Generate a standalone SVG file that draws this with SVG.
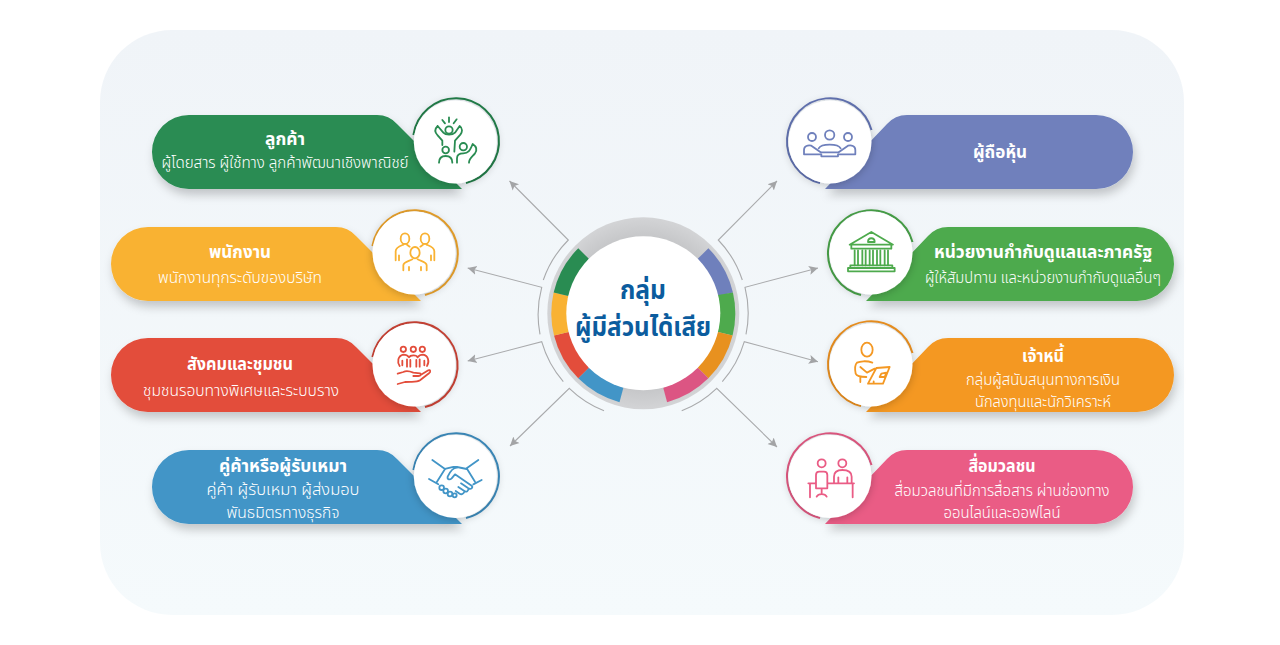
<svg xmlns="http://www.w3.org/2000/svg" width="1280" height="645" viewBox="0 0 1280 645">
<style>
text{font-family:"Noto Sans Thai","Noto Sans Thai Looped","Noto Sans","Liberation Sans",sans-serif;text-anchor:middle;fill:#fff}
.t{font-size:18px;font-weight:700}
.s{font-size:16px;font-weight:300;fill:#fff}
.c{font-size:26px;font-weight:700;fill:#0b5c9e}
.ic{fill:none;stroke-width:5.4;stroke-linecap:round;stroke-linejoin:round}
.ring{fill:none;stroke-width:2}
.conn{fill:none;stroke:#a9aaac;stroke-width:1.1}
</style>
<defs>
<linearGradient id="bg" x1="0" y1="0" x2="0" y2="1"><stop offset="0" stop-color="#f0f4f8"/><stop offset="1" stop-color="#f5fafc"/></linearGradient>
<radialGradient id="gr" cx=".5" cy=".5" r=".5"><stop offset=".8" stop-color="#c6c7c9"/><stop offset="1" stop-color="#d3d4d6"/></radialGradient>
<filter id="sh" x="-20%" y="-30%" width="140%" height="170%"><feDropShadow dx="2" dy="6" stdDeviation="5" flood-color="#000" flood-opacity=".2"/></filter>
<filter id="cs" x="-30%" y="-30%" width="160%" height="160%"><feDropShadow dx="0" dy="1" stdDeviation="4" flood-color="#000" flood-opacity=".24"/></filter>
<marker id="ah" markerUnits="userSpaceOnUse" markerWidth="12" markerHeight="12" refX="9" refY="5" orient="auto"><path d="M0,0.5 L9,5 L0,9.5 L2,5 Z" fill="#a3a4a6"/></marker>
<path id="pl" d="M37,0 H225 Q237,0 245,9 L310,74 H37 A37,37 0 0 1 37,0 Z"/>
<path id="pr" d="M271,0 H82 Q70,0 62,9 L0,74 H271 A37,37 0 0 0 271,0 Z"/>
</defs>

<rect x="100" y="30" width="1084" height="585" rx="72" fill="url(#bg)"/>

<g id="connectors" class="conn">
<path marker-end="url(#ah)" d="M543.3,280 A105,105 0 0 1 568.3,240 L509.5,181"/>
<path marker-end="url(#ah)" d="M540,334.3 A105,105 0 0 1 541.7,287.3 L467.7,268"/>
<path marker-end="url(#ah)" d="M563.3,381.7 A105,105 0 0 1 541.7,341.7 L467.7,361"/>
<path marker-end="url(#ah)" d="M604,410.7 A105,105 0 0 1 569.3,388.3 L510,446"/>
<path marker-end="url(#ah)" d="M742.3,280 A105,105 0 0 0 718.3,240 L777,181"/>
<path marker-end="url(#ah)" d="M746,334.3 A105,105 0 0 0 745,287.3 L818,268"/>
<path marker-end="url(#ah)" d="M722.3,381.7 A105,105 0 0 0 744.3,341.7 L818,361.7"/>
<path marker-end="url(#ah)" d="M681.7,410.7 A105,105 0 0 0 716.7,388.3 L777,447"/>
</g>

<g id="center">
<circle cx="643.3" cy="313.3" r="96" fill="url(#gr)"/>
<path fill="#6f80bc" d="M708.35,248.25 A92,92 0 0 1 732.94,292.6 L718.33,295.98 L697.75,258.85 Z"/>
<path fill="#4eaa4d" d="M732.94,292.6 A92,92 0 0 1 732.57,335.56 L718,332 L718,295 Z"/>
<path fill="#e8911f" d="M732.57,335.56 A92,92 0 0 1 708.35,378.35 L697.75,367.75 L718,332 Z"/>
<path fill="#dc5583" d="M708.35,378.35 A92,92 0 0 1 667.11,402.17 L663.23,387.68 L697.75,367.75 Z"/>
<path fill="#4295c7" d="M619.49,402.17 A92,92 0 0 1 578.25,378.35 L588.85,367.75 L623.37,387.68 Z"/>
<path fill="#e34d3b" d="M578.25,378.35 A92,92 0 0 1 554.03,335.56 L568.59,331.93 L588.85,367.75 Z"/>
<path fill="#f9b233" d="M554.03,335.56 A92,92 0 0 1 553.66,292.6 L568.27,295.98 L568.59,331.93 Z"/>
<path fill="#298c52" d="M553.66,292.6 A92,92 0 0 1 578.25,248.25 L588.85,258.85 L568.27,295.98 Z"/>
<circle cx="643.3" cy="313.3" r="77" fill="#fff"/>
<text class="c" x="643" y="299" textLength="46" lengthAdjust="spacingAndGlyphs">กลุ่ม</text>
<text class="c" x="643" y="336" textLength="136" lengthAdjust="spacingAndGlyphs">ผู้มีส่วนได้เสีย</text>
</g>

<g id="node-customer">
<use href="#pl" x="152" y="115" fill="#298c52" filter="url(#sh)"/>
<path class="ring" stroke="#23804a" d="M413.4,135 A43,43 0 1 1 466,183"/>
<circle cx="455.3" cy="142" r="41.5" fill="#fff" filter="url(#cs)"/>
<g class="ic" stroke="#298c52" transform="translate(425 110) scale(.3333)">
<circle cx="72" cy="60" r="11"/><path d="M52,30 L60,40 M72,22 V36 M95,28 L86,40"/>
<path d="M38,48 L55,68 C62,76 82,76 90,68 L104,48 C114,55 112,66 106,74 L90,92 L88,125 M38,48 C28,58 30,68 38,76 L52,92 V105"/>
<circle cx="62" cy="120" r="10"/><path d="M42,158 C42,144 50,138 62,138 C74,138 82,144 82,158"/>
<circle cx="115" cy="110" r="11"/><path d="M96,158 V145 C96,135 102,130 115,130 C130,130 135,122 143,102 C152,108 158,118 150,130 C142,140 132,145 132,158"/>
</g>
<text class="t" x="285" y="145" textLength="40" lengthAdjust="spacingAndGlyphs">ลูกค้า</text>
<text class="s" x="285" y="168" textLength="247" lengthAdjust="spacingAndGlyphs">ผู้โดยสาร ผู้ใช้ทาง ลูกค้าพัฒนาเชิงพาณิชย์</text>
</g>

<g id="node-employee">
<use href="#pl" x="111" y="227" fill="#f9b233" filter="url(#sh)"/>
<path class="ring" stroke="#eda42c" d="M372.4,246 A43,43 0 1 1 425,295"/>
<circle cx="414" cy="253" r="41.5" fill="#fff" filter="url(#cs)"/>
<g class="ic" stroke="#f9b233" transform="translate(385 222) scale(.3333)">
<ellipse cx="60" cy="50" rx="13" ry="16"/><ellipse cx="120" cy="50" rx="13" ry="16"/><ellipse cx="90" cy="92" rx="14" ry="17"/>
<path d="M32,115 V88 C32,76 45,72 55,68 M148,115 V88 C148,76 135,72 125,68 M55,145 V130 C55,120 72,118 82,112 M98,112 C108,118 125,120 125,130 V145 M42,100 V115 M138,100 V115 M72,145 V135 M108,145 V135 M66,68 L74,74 M114,68 L106,74"/>
</g>
<text class="t" x="240" y="258" textLength="62" lengthAdjust="spacingAndGlyphs">พนักงาน</text>
<text class="s" x="240" y="283" textLength="164" lengthAdjust="spacingAndGlyphs">พนักงานทุกระดับของบริษัท</text>
</g>

<g id="node-community">
<use href="#pl" x="111" y="338" fill="#e34d3b" filter="url(#sh)"/>
<path class="ring" stroke="#cf4436" d="M372.4,357 A43,43 0 1 1 425,407"/>
<circle cx="414" cy="365" r="41.5" fill="#fff" filter="url(#cs)"/>
<g class="ic" stroke="#e34d3b" transform="translate(385 332) scale(.3333)">
<circle cx="55" cy="52" r="8"/><circle cx="85" cy="52" r="8"/><circle cx="112" cy="52" r="8"/>
<path d="M44,102 C36,90 38,72 55,68 C62,68 68,70 72,76 C76,68 95,68 98,76 C102,70 108,68 114,68 C130,70 134,90 126,102 M66,104 V82 M76,104 V84 M94,104 V84 M104,104 V82 M52,86 V100 M118,86 V100"/>
<path d="M38,125 L55,120 C65,115 75,118 85,122 L105,124 C110,126 108,132 100,132 L85,132 M108,128 L130,115 C136,112 138,120 132,124 L105,145 C95,152 80,148 60,150 L38,156"/>
</g>
<text class="t" x="240" y="370" textLength="106" lengthAdjust="spacingAndGlyphs">สังคมและชุมชน</text>
<text class="s" x="241" y="396" textLength="196" lengthAdjust="spacingAndGlyphs">ชุมชนรอบทางพิเศษและระบบราง</text>
</g>

<g id="node-supplier">
<use href="#pl" x="152" y="450" fill="#4295c7" filter="url(#sh)"/>
<path class="ring" stroke="#3d8dbf" d="M413.4,470 A43,43 0 1 1 466,518"/>
<circle cx="455.3" cy="476.5" r="41.5" fill="#fff" filter="url(#cs)"/>
<g class="ic" stroke="#4295c7" transform="translate(425 445) scale(.3333)">
<path d="M22,45 L60,72 L35,112 M12,102 L40,118 M160,45 L125,70 L150,110 M170,105 L145,118"/>
<path d="M60,72 L85,66 H96 L125,72 M96,68 C85,68 75,80 68,95 C66,105 75,105 80,100 L90,88 L140,122 C145,128 138,135 130,130 L108,115 M130,130 C132,138 124,142 118,138 L100,126 M118,138 C118,146 110,150 104,146 L92,138"/>
<circle cx="50" cy="128" r="7"/><circle cx="62" cy="138" r="7"/><circle cx="75" cy="147" r="7"/><circle cx="89" cy="151" r="6"/>
</g>
<text class="t" x="283" y="472" textLength="128" lengthAdjust="spacingAndGlyphs">คู่ค้าหรือผู้รับเหมา</text>
<text class="s" x="283" y="495" textLength="153" lengthAdjust="spacingAndGlyphs">คู่ค้า  ผู้รับเหมา  ผู้ส่งมอบ</text>
<text class="s" x="283" y="518" textLength="113" lengthAdjust="spacingAndGlyphs">พันธมิตรทางธุรกิจ</text>
</g>

<g id="node-shareholder">
<use href="#pr" x="825" y="115" fill="#6f80bc" filter="url(#sh)"/>
<path class="ring" stroke="#6475b5" d="M871.5,130 A43,43 0 1 0 820,183"/>
<circle cx="830" cy="142" r="41.5" fill="#fff" filter="url(#cs)"/>
<g class="ic" stroke="#6f80bc" transform="translate(798 115) scale(.3333)">
<circle cx="42" cy="66" r="12"/><circle cx="95" cy="60" r="14"/><circle cx="150" cy="66" r="12"/>
<path d="M18,118 V105 C18,92 30,90 40,92 L68,112 M18,118 H70 L70,124 H120 V118 H172 V105 C172,92 160,90 150,92 L122,112 M62,100 C70,85 120,85 128,100 M70,112 H120"/>
</g>
<text class="t" x="1000" y="158" textLength="54" lengthAdjust="spacingAndGlyphs">ผู้ถือหุ้น</text>
</g>

<g id="node-regulator">
<use href="#pr" x="866" y="227" fill="#4eaa4d" filter="url(#sh)"/>
<path class="ring" stroke="#4aa64a" d="M912.5,242 A43,43 0 1 0 861,295"/>
<circle cx="871" cy="253" r="41.5" fill="#fff" filter="url(#cs)"/>
<g class="ic" stroke="#4eaa4d" transform="translate(843 222) scale(.3333)">
<path d="M20,68 L85,30 L150,68 Z M25,68 V80 H145 V68 M75,60 C75,45 95,45 95,60 Z"/>
<path d="M35,85 V130 M45,85 V130 M58,85 V130 M68,85 V130 M80,85 V130 M90,85 V130 M102,85 V130 M112,85 V130 M125,85 V130 M135,85 V130"/>
<rect x="22" y="130" width="126" height="8"/><rect x="15" y="138" width="140" height="10"/>
</g>
<text class="t" x="1043" y="258" textLength="218" lengthAdjust="spacingAndGlyphs">หน่วยงานกำกับดูแลและภาครัฐ</text>
<text class="s" x="1043" y="283" textLength="236" lengthAdjust="spacingAndGlyphs">ผู้ให้สัมปทาน และหน่วยงานกำกับดูแลอื่นๆ</text>
</g>

<g id="node-creditor">
<use href="#pr" x="866" y="338" fill="#f49823" filter="url(#sh)"/>
<path class="ring" stroke="#f09320" d="M912.5,353 A43,43 0 1 0 861,406"/>
<circle cx="871" cy="365" r="41.5" fill="#fff" filter="url(#cs)"/>
<g class="ic" stroke="#f49823" transform="translate(843 332) scale(.3333)">
<ellipse cx="72" cy="53" rx="17" ry="21"/>
<path d="M88,92 C70,85 50,88 42,92 C36,98 35,110 38,125 C40,130 50,135 70,135 M52,105 L72,122 L95,110 M100,108 L140,105 L120,155 H75 Z M115,125 L130,122 L125,135 H110 Z M52,135 V150 M92,155 V148"/>
</g>
<text class="t" x="1043" y="362" textLength="42" lengthAdjust="spacingAndGlyphs">เจ้าหนี้</text>
<text class="s" x="1043" y="385" textLength="154" lengthAdjust="spacingAndGlyphs">กลุ่มผู้สนับสนุนทางการเงิน</text>
<text class="s" x="1043" y="407" textLength="136" lengthAdjust="spacingAndGlyphs">นักลงทุนและนักวิเคราะห์</text>
</g>

<g id="node-media">
<use href="#pr" x="825" y="450" fill="#ea5c85" filter="url(#sh)"/>
<path class="ring" stroke="#e65a84" d="M871.5,465 A43,43 0 1 0 820,518"/>
<circle cx="830" cy="476.5" r="41.5" fill="#fff" filter="url(#cs)"/>
<g class="ic" stroke="#ea5c85" transform="translate(770 320) scale(.3333)">
<circle cx="155" cy="430" r="12"/><circle cx="217" cy="430" r="12"/>
<path d="M138,505 V465 Q138,455 148,455 H162 Q172,455 172,465 V505 Z M155,505 V522 M140,530 C145,520 165,520 170,530 M115,490 H135 M175,490 H252 M120,490 V532 M248,490 V532 M192,490 V470 C192,455 205,450 217,450 C232,450 245,455 245,470 V490 M205,490 V472 M232,490 V472"/>
</g>
<text class="t" x="1002" y="472" textLength="67" lengthAdjust="spacingAndGlyphs">สื่อมวลชน</text>
<text class="s" x="1002" y="496" textLength="215" lengthAdjust="spacingAndGlyphs">สื่อมวลชนที่มีการสื่อสาร ผ่านช่องทาง</text>
<text class="s" x="1002" y="518" textLength="117" lengthAdjust="spacingAndGlyphs">ออนไลน์และออฟไลน์</text>
</g>
</svg>
